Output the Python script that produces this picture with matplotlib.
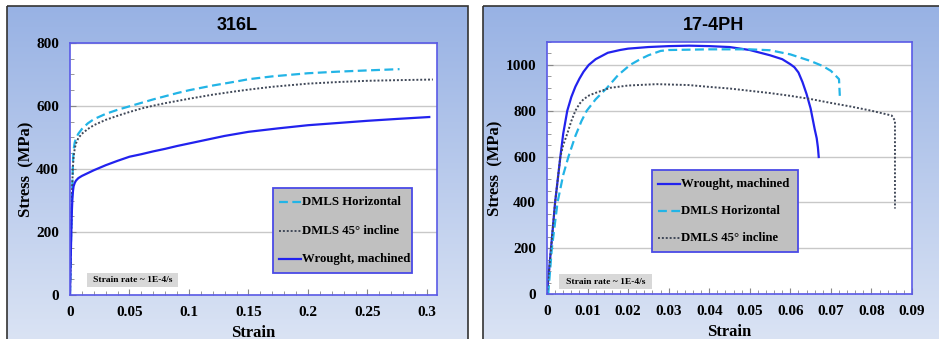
import matplotlib.pyplot as plt
import numpy as np
from matplotlib.patches import Rectangle
from matplotlib.lines import Line2D

# ---- data ----
# 316L
l_horiz_x = [0, 0.0005, 0.001, 0.0015, 0.002, 0.0025, 0.003, 0.004, 0.005, 0.007, 0.01, 0.015, 0.02,
             0.03, 0.04, 0.05, 0.06, 0.07, 0.08, 0.09, 0.1, 0.12, 0.14, 0.15, 0.17, 0.2, 0.225, 0.25, 0.277]
l_horiz_y = [0, 100, 200, 290, 354, 420, 460, 485, 497, 512, 527, 545, 558,
             575, 588, 599, 610, 621, 631, 641, 650, 665, 678, 685, 694, 704, 709, 713, 717]
l_inc_x = [0, 0.0005, 0.001, 0.0015, 0.002, 0.0025, 0.003, 0.004, 0.005, 0.007, 0.01, 0.015, 0.02,
           0.03, 0.04, 0.05, 0.06, 0.07, 0.08, 0.09, 0.1, 0.12, 0.14, 0.15, 0.17, 0.2, 0.225, 0.25,
           0.275, 0.305]
l_inc_y = [0, 100, 200, 290, 360, 410, 439, 465, 481, 498, 512, 527, 539,
           556, 569, 581, 592, 601, 609, 616, 623, 636, 647, 652, 661, 671, 676, 680,
           682, 684]
l_wro_x = [0, 0.0004, 0.0008, 0.0012, 0.0015, 0.002, 0.0025, 0.003, 0.004, 0.005, 0.007, 0.01, 0.015,
           0.02, 0.03, 0.04, 0.05, 0.06, 0.07, 0.08, 0.09, 0.1, 0.12, 0.13, 0.15, 0.175, 0.2, 0.225,
           0.25, 0.275, 0.302]
l_wro_y = [0, 80, 150, 215, 260, 305, 330, 345, 356, 363, 371, 378, 387,
           396, 412, 426, 439, 447, 456, 464, 473, 481, 497, 505, 518, 529, 539, 546,
           553, 559, 565]

# 17-4PH
r_wro_x = [0, 0.001, 0.002, 0.0033, 0.004, 0.005, 0.006, 0.007, 0.008, 0.009, 0.0103, 0.012, 0.015,
           0.018, 0.02, 0.025, 0.03, 0.035, 0.04, 0.045, 0.05, 0.055, 0.058, 0.06, 0.061, 0.062,
           0.063, 0.064, 0.065, 0.066, 0.0665, 0.0668, 0.067]
r_wro_y = [0, 200, 400, 600, 700, 800, 860, 905, 940, 970, 1000, 1025, 1053,
           1065, 1071, 1078, 1082, 1084, 1082, 1078, 1065, 1042, 1025, 1003, 990, 967,
           925, 873, 810, 720, 680, 640, 598]
r_horiz_x = [0.0003, 0.0012, 0.0026, 0.004, 0.0053, 0.007, 0.0085, 0.0098, 0.012, 0.0148, 0.0175,
             0.0205, 0.023, 0.025, 0.028, 0.03, 0.04, 0.05, 0.055, 0.06, 0.065, 0.068, 0.07, 0.072,
             0.0722]
r_horiz_y = [0, 200, 400, 520, 600, 690, 755, 800, 850, 900, 955,
             1000, 1025, 1042, 1061, 1065, 1068, 1068, 1064, 1046, 1017, 995, 974, 938,
             865]
r_inc_x = [0, 0.001, 0.002, 0.0033, 0.004, 0.005, 0.006, 0.007, 0.008, 0.009, 0.0105, 0.0123,
           0.0156, 0.02, 0.027, 0.035, 0.04, 0.045, 0.05, 0.055, 0.06, 0.065, 0.07, 0.075, 0.08,
           0.085, 0.0858, 0.0858]
r_inc_y = [0, 200, 400, 600, 650, 700, 755, 800, 830, 850, 868, 880,
           900, 910, 916, 912, 904, 897, 887, 877, 865, 851, 834, 818, 800,
           779, 757, 373]

BLUE = '#2222ee'
CYAN = '#22b4e6'
GRAY = '#404858'
SERIF = 'Liberation Serif'

fig = plt.figure(figsize=(9.39, 3.39), dpi=100)
W, H = 939, 339

# background panels with vertical gradient
bg = fig.add_axes([0, 0, 1, 1])
bg.axis('off')
grad = np.linspace(0, 1, 256).reshape(-1, 1)
top = np.array([152, 178, 228]) / 255
bot = np.array([222, 230, 245]) / 255
img = top[None, None, :] * (1 - grad[:, :, None]) + bot[None, None, :] * grad[:, :, None]
panels = [(7, 468), (483, 944)]
for x0, x1 in panels:
    bg.imshow(img, extent=(x0, x1, 360, 6), aspect='auto', zorder=0)
    bg.add_patch(Rectangle((x0, 6), x1 - x0, 360, fill=False, ec='#333333', lw=1.2, zorder=1))
bg.set_xlim(0, W)
bg.set_ylim(H, 0)

boxes = []


def panel(rect, pan, title, xmax, xstep, ymax, ystep, series, leg_rect, rate_xy):
    ax = fig.add_axes([rect[0] / W, 1 - rect[3] / H, (rect[2] - rect[0]) / W, (rect[3] - rect[1]) / H])
    ax.set_facecolor('white')
    for x, y, c, ls, lw, lab in series:
        ax.plot(x, y, color=c, ls=ls, lw=lw, label=lab)
    ax.set_xlim(0, xmax)
    ax.set_ylim(0, ymax)
    ax.set_yticks(np.arange(0, ymax + 1, ystep))
    ax.set_yticks(np.arange(0, ymax + 1, 50), minor=True)
    xt = np.arange(0, xmax + 1e-9, xstep)
    ax.set_xticks(xt)
    ax.set_xticklabels(['0' if v == 0 else ('%g' % round(v, 3)) for v in xt])
    ax.set_xticks(np.arange(0, xmax + 1e-9, xstep / 5), minor=True)
    ax.yaxis.grid(True, color='#c8c8c8', lw=1)
    ax.set_axisbelow(True)
    ax.tick_params(which='both', direction='in', color='#888888', labelsize=11)
    ax.tick_params(which='major', length=4, pad=8)
    ax.tick_params(which='minor', length=3)
    for lab in ax.get_xticklabels() + ax.get_yticklabels():
        lab.set_fontfamily(SERIF)
        lab.set_fontweight('bold')
    for s in ax.spines.values():
        s.set_color('#5a5ae6')
        s.set_linewidth(1.2)
    ax.set_xlabel('Strain', family=SERIF, weight='bold', fontsize=12, labelpad=4)
    ax.set_ylabel('Stress  (MPa)', family=SERIF, weight='bold', fontsize=12, labelpad=1)
    fig.text((pan[0] + pan[1]) / 2 / W, 1 - 25 / H, title, ha='center', va='center',
             fontsize=13, weight='bold', family=['Liberation Sans Narrow', 'Liberation Sans'])
    boxes.append((series, leg_rect, rate_xy))
    return ax


left_series = [
    (l_horiz_x, l_horiz_y, CYAN, (0, (4, 2)), 1.6, 'DMLS Horizontal'),
    (l_inc_x, l_inc_y, GRAY, (0, (1, 1)), 1.4, 'DMLS 45° incline'),
    (l_wro_x, l_wro_y, BLUE, '-', 1.6, 'Wrought, machined'),
]
right_series = [
    (r_wro_x, r_wro_y, BLUE, '-', 1.6, 'Wrought, machined'),
    (r_horiz_x, r_horiz_y, CYAN, (0, (4, 2)), 1.6, 'DMLS Horizontal'),
    (r_inc_x, r_inc_y, GRAY, (0, (1, 1)), 1.4, 'DMLS 45° incline'),
]

panel((70, 43, 437, 295), panels[0], '316L', 0.3085, 0.05, 800, 200, left_series,
      (273, 188, 412, 273), (87, 273, 178, 287))
panel((547, 42, 912, 294), panels[1], '17-4PH', 0.09, 0.01, 1100, 200, right_series,
      (652, 170, 798, 252), (559, 274, 652, 289))

# overlay for legend boxes and strain-rate notes
ov = fig.add_axes([0, 0, 1, 1])
ov.patch.set_alpha(0)
ov.axis('off')
ov.set_xlim(0, W)
ov.set_ylim(H, 0)
for series, (lx0, ly0, lx1, ly1), (rx0, ry0, rx1, ry1) in boxes:
    ov.add_patch(Rectangle((lx0, ly0), lx1 - lx0, ly1 - ly0, fc='#c0c0c0', ec='#4a4ae6', lw=1.3))
    step = (ly1 - ly0) / len(series)
    for i, (x, y, c, ls, lw, lab) in enumerate(series):
        yy = ly0 + step * (i + 0.5)
        ov.add_line(Line2D([lx0 + 6, lx0 + 28], [yy, yy], color=c, ls=ls, lw=lw))
        ov.text(lx0 + 29, yy, lab, ha='left', va='center', family=SERIF, weight='bold', fontsize=9.2)
    ov.add_patch(Rectangle((rx0, ry0), rx1 - rx0, ry1 - ry0, fc='#d8d8d8', ec='none'))
    ov.text((rx0 + rx1) / 2, (ry0 + ry1) / 2, 'Strain rate ~ 1E-4/s', ha='center', va='center',
            family=SERIF, weight='bold', fontsize=6.8)

fig.savefig('out.png', dpi=100)
